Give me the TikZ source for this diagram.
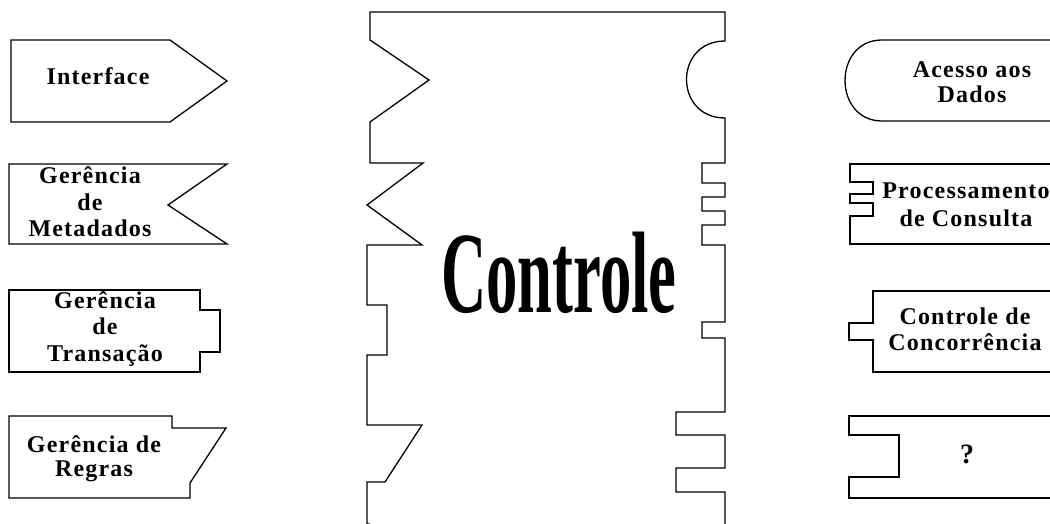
\documentclass[tikz,border=0pt]{standalone}
\usepackage{fontspec}
\setmainfont{Liberation Serif}
\newfontfamily\lblfont{Liberation Serif}[LetterSpace=5]
\newfontfamily\bigfont{Liberation Serif}
\begin{document}
\begin{tikzpicture}[x=1pt,y=-1pt,
  part/.style={draw=black,line width=1.3pt,line join=miter},
  lbl/.style={font=\lblfont\bfseries\fontsize{24}{26.5}\selectfont,align=center,inner sep=0pt}]
\useasboundingbox (0,0) rectangle (1050,524);
\clip (0,0) rectangle (1050,524);
\fill[white] (0,0) rectangle (1050,524);

% central block
\draw[part] (370,524) -- (367,524) -- (367,482) -- (385,482) -- (422,425) -- (367,425) -- (367,355)
  -- (387,355) -- (387,305) -- (367,305) -- (367,245) -- (422,245) -- (367,205) -- (423,163)
  -- (370,163) -- (370,122) -- (429,80) -- (370,40) -- (370,12) -- (725,12) -- (725,41)
  .. controls (673.7,41) and (673.7,118) .. (725,118)
  -- (725,163) -- (702,163) -- (702,183) -- (725,183) -- (725,197) -- (702,197) -- (702,211)
  -- (725,211) -- (725,225) -- (702,225) -- (702,245) -- (725,245) -- (725,322) -- (702,322)
  -- (702,338) -- (725,338) -- (725,412) -- (676,412) -- (676,435) -- (725,435) -- (725,468)
  -- (676,468) -- (676,492) -- (725,492) -- (725,524);
\node[anchor=base,inner sep=0pt] (controle) at (559,312)
  {\scalebox{0.54}[1]{\bigfont\bfseries\fontsize{116}{116}\selectfont Controle}};

% left pieces
\draw[part] (11,40) -- (170,40) -- (227,81) -- (170,122) -- (11,122) -- cycle;
\node[lbl] (interface) at (98,76) {Interface};

\draw[part] (9,164) -- (227,164) -- (168,205) -- (227,244) -- (9,244) -- cycle;
\node[lbl] (metadados) at (90,202) {Gerência\\de\\Metadados};

\draw[part] (9,290) -- (200,290) -- (200,310) -- (220,310) -- (220,352) -- (200,352) -- (200,372) -- (9,372) -- cycle;
\node[lbl] (transacao) at (105,329) {Gerência\\de\\Transação};

\draw[part] (9,416) -- (172,416) -- (172,428) -- (226,428) -- (190,483) -- (190,498) -- (9,498) -- cycle;
\node[lbl,font=\lblfont\bfseries\fontsize{24}{24}\selectfont] (regras) at (94,459) {Gerência de\\Regras};

% right pieces
\draw[part] (1060,40) -- (882,40) .. controls (832.7,40) and (832.7,121) .. (882,121) -- (1060,121);
\node[lbl,font=\lblfont\bfseries\fontsize{24}{25}\selectfont] (acesso) at (972,82) {Acesso aos\\Dados};

\draw[part] (1060,164) -- (850,164) -- (850,182) -- (873,182) -- (873,194) -- (850,194) -- (850,203)
  -- (873,203) -- (873,216) -- (850,216) -- (850,244) -- (1060,244);
\node[lbl,font=\lblfont\bfseries\fontsize{24}{28}\selectfont] (consulta) at (966,205) {Processamento\\de Consulta};

\draw[part] (1060,291) -- (873,291) -- (873,323) -- (849,323) -- (849,340) -- (873,340) -- (873,372) -- (1060,372);
\node[lbl,font=\lblfont\bfseries\fontsize{24}{26}\selectfont] (concorrencia) at (965,329) {Controle de\\Concorrência};

\draw[part] (1060,416) -- (849,416) -- (849,435) -- (899,435) -- (899,477) -- (849,477) -- (849,498) -- (1060,498);
\node[lbl,font=\lblfont\bfseries\fontsize{28}{28}\selectfont] (outro) at (967,454) {?};
\end{tikzpicture}
\end{document}
